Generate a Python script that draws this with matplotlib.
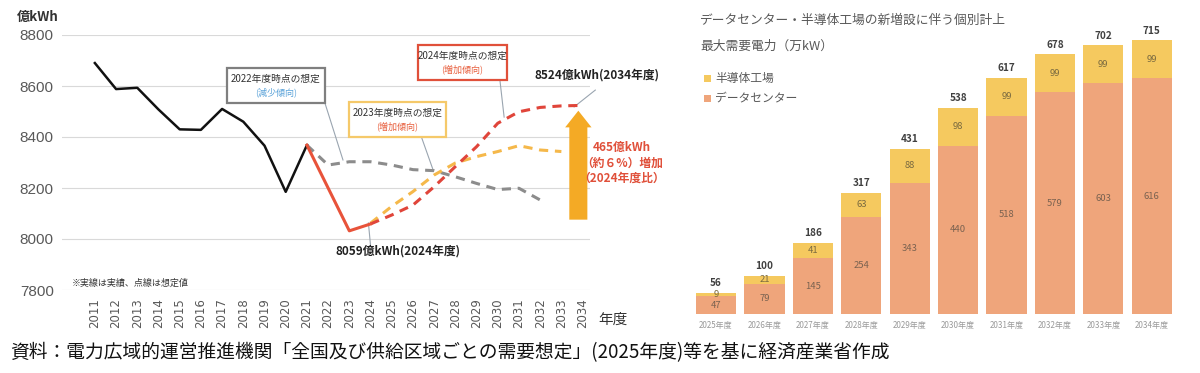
import matplotlib
matplotlib.use('Agg')
import matplotlib.pyplot as plt
from matplotlib.patches import Rectangle
import numpy as np

plt.rcParams['font.family'] = ['Noto Sans CJK JP', 'DejaVu Sans']

# left chart: electricity demand (億kWh)
actual_years = [2011, 2012, 2013, 2014, 2015, 2016, 2017, 2018, 2019, 2020, 2021]
actual_vals = [8690, 8588, 8593, 8508, 8430, 8428, 8510, 8460, 8366, 8185, 8368]
recent_years = [2021, 2022, 2023, 2024]
recent_vals = [8368, 8200, 8032, 8059]
f2022_years = [2021, 2022, 2023, 2024, 2025, 2026, 2027, 2028, 2029, 2030, 2031, 2032]
f2022_vals = [8368, 8290, 8303, 8303, 8290, 8272, 8268, 8244, 8218, 8194, 8199, 8153]
f2023_years = [2024, 2025, 2026, 2027, 2028, 2029, 2030, 2031, 2032, 2033]
f2023_vals = [8062, 8128, 8186, 8251, 8298, 8323, 8343, 8366, 8349, 8343]
f2024_years = [2024, 2025, 2026, 2027, 2028, 2029, 2030, 2031, 2032, 2033, 2034]
f2024_vals = [8059, 8094, 8133, 8205, 8284, 8362, 8454, 8499, 8516, 8522, 8524]

# right chart: max demand (万kW)
bar_labels = ['2025年度', '2026年度', '2027年度', '2028年度', '2029年度',
              '2030年度', '2031年度', '2032年度', '2033年度', '2034年度']
datacenter = [47, 79, 145, 254, 343, 440, 518, 579, 603, 616]
semicon = [9, 21, 41, 63, 88, 98, 99, 99, 99, 99]
totals = [56, 100, 186, 317, 431, 538, 617, 678, 702, 715]

W, H = 1200, 373
fig = plt.figure(figsize=(12, 3.73), dpi=100)
fig.patch.set_facecolor('white')

def fx(px):
    return px / W

def fy(py):
    return 1 - py / H

# ---------------- left chart ----------------
ax = fig.add_axes([fx(62), fy(290), fx(590) - fx(62), fy(35) - fy(290)])
ax.set_xlim(2009.45, 2034.35)
ax.set_ylim(7800, 8800)
ax.set_yticks(np.arange(7800, 8801, 200))
ax.set_xticks(range(2011, 2035))
ax.set_xticklabels([str(y) for y in range(2011, 2035)], rotation=90, fontsize=8.5,
                   color='#595959', family=['DejaVu Sans'])
ax.tick_params(axis='y', labelsize=11, colors='#595959', length=0, pad=6)
ax.tick_params(axis='x', length=0, pad=6)
for lab in ax.get_yticklabels():
    lab.set_family(['Liberation Sans', 'DejaVu Sans'])
ax.grid(axis='y', color='#d9d9d9', lw=0.8)
ax.set_axisbelow(True)
for s in ax.spines.values():
    s.set_visible(False)

ax.plot(actual_years, actual_vals, color='#111111', lw=1.8, zorder=4)
ax.plot(f2022_years, f2022_vals, color='#8c8c8c', lw=2.2, ls=(0, (3, 2.2)), zorder=3)
ax.plot(f2023_years, f2023_vals, color='#F5B84A', lw=2.2, ls=(0, (3, 2.2)), zorder=3)
ax.plot(f2024_years, f2024_vals, color='#E0453A', lw=2.2, ls=(0, (3, 2.2)), zorder=3)
ax.plot(recent_years, recent_vals, color='#E8533A', lw=2.2, zorder=4)

# forecast boxes
boxes = [
    (2017.23, 2021.85, 8533, 8671, '#7f7f7f', '2022年度時点の想定', '(減少傾向)', '#5BA3D9'),
    (2022.98, 2027.56, 8400, 8537, '#F5C96A', '2023年度時点の想定', '(増加傾向)', '#E8603F'),
    (2026.24, 2030.43, 8624, 8761, '#E0503A', '2024年度時点の想定', '(増加傾向)', '#E8603F'),
]
for x0, x1, y0, y1, ec, t1, t2, c2 in boxes:
    ax.add_patch(Rectangle((x0, y0), x1 - x0, y1 - y0, fc='white', ec=ec, lw=1.6,
                           zorder=5, clip_on=False))
    xc = (x0 + x1) / 2
    h = y1 - y0
    ax.text(xc, y1 - h * 0.3, t1, ha='center', va='center', fontsize=7, color='#333333',
            zorder=6)
    ax.text(xc, y1 - h * 0.7, t2, ha='center', va='center', fontsize=6.5, color=c2,
            zorder=6)

# leader lines
leaders = [
    ((2021.85, 8533), (2022.7, 8310)),
    ((2026.4, 8400), (2026.95, 8271)),
    ((2030.1, 8624), (2030.3, 8478)),
    ((2033.6, 8518), (2034.6, 8584)),
    ((2023.9, 8063), (2024.0, 7975)),
]
for (xa, ya), (xb, yb) in leaders:
    ax.plot([xa, xb], [ya, yb], color='#9aa5b0', lw=0.8, zorder=2, clip_on=False)

ax.text(2025.3, 7953, '8059億kWh(2024年度)', ha='center', va='center', fontsize=8.5,
        fontweight='bold', color='#222222', zorder=6)
ax.text(2031.75, 8643, '8524億kWh(2034年度)', ha='left', va='center', fontsize=8.5,
        fontweight='bold', color='#222222', zorder=6, clip_on=False)

ax.annotate('', xy=(2033.8, 8514), xytext=(2033.8, 8065),
            arrowprops=dict(arrowstyle='simple,head_width=0.95,tail_width=0.65,head_length=0.6',
                            color='#F4AA25', mutation_scale=20, lw=0),
            annotation_clip=False, zorder=6)
ax.text(2035.85, 8298, '465億kWh\n（約６%）増加\n（2024年度比）', ha='center', va='center',
        fontsize=8.5, fontweight='bold', color='#E0503A', linespacing=1.25,
        clip_on=False, zorder=6)

ax.text(2009.9, 7827, '※実線は実績、点線は想定値', fontsize=6.5, color='#333333',
        va='center', zorder=6)
fig.text(fx(17), fy(17), '億kWh', fontsize=9.5, fontweight='bold', color='#333333',
         va='center')
fig.text(fx(598), fy(320), '年度', fontsize=10.5, color='#333333', va='center')

# ---------------- right chart ----------------
bx = fig.add_axes([fx(690), fy(314), fx(1190) - fx(690), fy(0) - fy(314)])
idx = np.arange(len(bar_labels))
bx.bar(idx, datacenter, width=0.83, color='#EFA57B')
bx.bar(idx, semicon, width=0.83, bottom=datacenter, color='#F5C95F')
bx.set_xlim(-0.537, 9.79)
bx.set_ylim(0, 820)
bx.set_yticks([])
bx.set_xticks(idx)
bx.set_xticklabels(bar_labels, fontsize=5.8, color='#9a9a9a')
bx.tick_params(axis='x', length=0, pad=5)
for s in bx.spines.values():
    s.set_visible(False)
bx.patch.set_alpha(0)

for i in idx:
    bx.text(i, datacenter[i] / 2, str(datacenter[i]), ha='center', va='center',
            fontsize=6.8, color='#7a6250')
    bx.text(i, datacenter[i] + semicon[i] / 2, str(semicon[i]), ha='center', va='center',
            fontsize=6.8, color='#7a6a40')
    bx.text(i, totals[i] + 12, str(totals[i]), ha='center', va='bottom',
            fontsize=7.2, fontweight='bold', color='#404040')

fig.text(fx(700), fy(20), 'データセンター・半導体工場の新増設に伴う個別計上', fontsize=9.2,
         color='#595959', va='center')
fig.text(fx(700), fy(46), '最大需要電力（万kW）', fontsize=9.2, color='#595959', va='center')
for py, col, lab in [(78, '#F5C95F', '半導体工場'), (98, '#EFA57B', 'データセンター')]:
    fig.patches.append(Rectangle((fx(704), fy(py) - 3.5 / H), 7 / W, 7 / H, fc=col, ec='none',
                                 transform=fig.transFigure, figure=fig))
    fig.text(fx(715), fy(py), lab, fontsize=8.5, color='#595959', va='center')

# caption
fig.text(fx(10), fy(353),
         '資料：電力広域的運営推進機関「全国及び供給区域ごとの需要想定」(2025年度)等を基に経済産業省作成',
         fontsize=13.5, color='#111111', va='center')

fig.savefig('out.png', dpi=100, facecolor='white')
